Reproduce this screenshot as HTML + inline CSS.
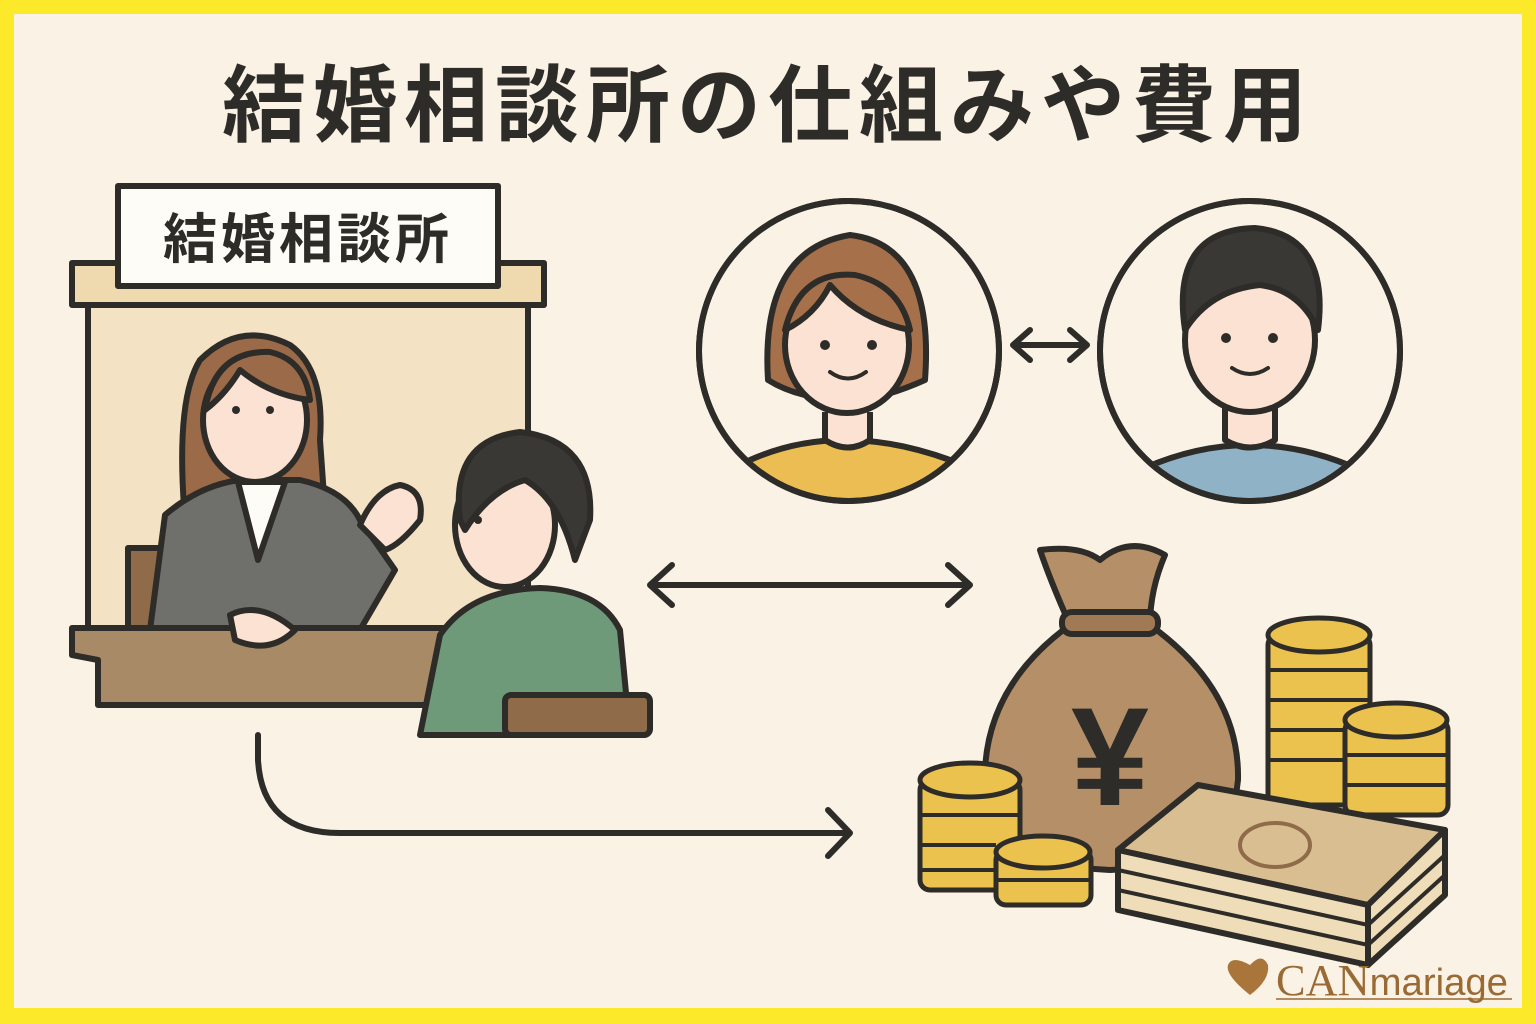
<!DOCTYPE html>
<html><head><meta charset="utf-8"><style>
html,body{margin:0;padding:0;}
body{width:1536px;height:1024px;overflow:hidden;background:#fbe92a;}
svg{display:block}
</style></head><body>
<svg width="1536" height="1024" viewBox="0 0 1536 1024" xmlns="http://www.w3.org/2000/svg">
<rect x="0" y="0" width="1536" height="1024" fill="#fbe92a"/>
<rect x="14" y="14" width="1508" height="994" fill="#faf2e4"/>
<text x="768" y="135" text-anchor="middle" font-family="'Liberation Sans','Noto Sans CJK JP',sans-serif" font-weight="bold" font-size="84" fill="#2e2c28" letter-spacing="7">結婚相談所の仕組みや費用</text>

<g stroke="#2e2c28" stroke-width="6" stroke-linejoin="round" stroke-linecap="round">
<rect x="88" y="300" width="440" height="330" fill="#f3e3c4"/>
<rect x="72" y="263" width="472" height="42" fill="#efdab0"/>
<rect x="118" y="186" width="380" height="100" fill="#fefcf6"/>
<rect x="128" y="548" width="40" height="85" fill="#8f6b4a"/>
<path d="M185 520 Q175 400 200 360 Q240 320 290 345 Q325 370 320 440 L325 510 Z" fill="#9b6a48"/>
<path d="M150 630 L165 515 Q200 485 240 480 L300 480 Q345 490 360 520 L395 570 L360 630 Z" fill="#6f6f6b"/>
<path d="M238 482 L258 560 L285 482 Z" fill="#fefcf6"/>
<ellipse cx="255" cy="420" rx="52" ry="62" fill="#fbe2d2"/>
<path d="M205 410 Q215 350 270 352 Q305 360 310 400 Q270 395 240 370 Q225 395 205 410Z" fill="#9b6a48"/>
<path d="M360 525 Q375 490 400 485 Q425 490 420 520 Q400 545 385 550 Z" fill="#fbe2d2"/>
<path d="M72 628 L460 628 L460 705 L98 705 L98 660 L72 655 Z" fill="#a88a66"/>
<path d="M230 615 Q260 600 295 630 Q270 655 235 640 Z" fill="#fbe2d2"/>
<path d="M420 735 L440 635 Q470 590 540 588 Q600 590 620 630 L630 735 Z" fill="#6e9a7a"/>
<ellipse cx="505" cy="525" rx="50" ry="62" fill="#fbe2d2"/>
<path d="M460 520 Q450 440 520 432 Q595 440 590 520 L575 560 Q560 500 525 480 Q490 490 465 530Z" fill="#3a3835"/>
<rect x="505" y="695" width="145" height="40" rx="6" fill="#8f6b4a"/>
<circle cx="849" cy="351" r="150" fill="#faf2e4"/>
<circle cx="1250" cy="351" r="150" fill="#faf2e4"/>
</g>
<defs><clipPath id="c1"><circle cx="849" cy="351" r="147"/></clipPath><clipPath id="c2"><circle cx="1250" cy="351" r="147"/></clipPath></defs>
<g stroke="#2e2c28" stroke-width="6" stroke-linejoin="round" clip-path="url(#c1)">
<path d="M750 460 Q840 420 950 460 L950 520 L750 520Z" fill="#ecbd52"/>
<path d="M768 380 Q760 250 850 235 Q935 245 925 380 Q880 400 850 400 Q800 400 768 380Z" fill="#a6704a"/>
<path d="M825 412 L825 440 Q848 455 870 440 L870 412" fill="#fbe2d2"/>
<ellipse cx="847" cy="345" rx="62" ry="68" fill="#fbe2d2"/>
<path d="M785 330 Q800 270 855 275 Q900 285 910 330 Q860 320 830 285 Q815 315 785 330Z" fill="#a6704a"/>
</g>
<circle cx="849" cy="351" r="150" fill="none" stroke="#2e2c28" stroke-width="6"/>
<g stroke="#2e2c28" stroke-width="6" stroke-linejoin="round" clip-path="url(#c2)">
<path d="M1140 470 Q1250 420 1360 470 L1360 520 L1140 520Z" fill="#8fb2c6"/>
<path d="M1225 405 L1225 440 Q1250 455 1275 440 L1275 405" fill="#fbe2d2"/>
<ellipse cx="1250" cy="340" rx="65" ry="72" fill="#fbe2d2"/>
<path d="M1185 330 Q1170 230 1255 228 Q1330 235 1318 330 Q1300 290 1260 285 Q1210 290 1185 330Z" fill="#3a3835"/>
</g>
<circle cx="1250" cy="351" r="150" fill="none" stroke="#2e2c28" stroke-width="6"/>
<g fill="#2e2c28">
<circle cx="825" cy="345" r="5"/><circle cx="872" cy="345" r="5"/>
<circle cx="1226" cy="338" r="5"/><circle cx="1273" cy="338" r="5"/>
<circle cx="236" cy="410" r="4"/><circle cx="270" cy="410" r="4"/>
<circle cx="478" cy="520" r="4"/>
</g>
<g fill="none" stroke="#2e2c28" stroke-width="4" stroke-linecap="round">
<path d="M830 372 Q848 385 866 372"/><path d="M1232 368 Q1250 380 1268 368"/>
</g>
<g fill="none" stroke="#2e2c28" stroke-width="6" stroke-linecap="round" stroke-linejoin="round">
<path d="M1013 345 L1087 345 M1030 330 L1013 345 L1030 360 M1070 330 L1087 345 L1070 360"/>
<path d="M650 585 L970 585 M672 565 L650 585 L672 605 M948 565 L970 585 L948 605"/>
<path d="M258 735 L258 760 Q262 833 340 833 L850 833 M828 810 L850 833 L828 856"/>
</g>
<g stroke="#2e2c28" stroke-width="6" stroke-linejoin="round">
<path d="M1070 625 Q980 690 985 790 Q995 865 1110 870 Q1230 865 1238 780 Q1240 690 1150 625 Z" fill="#b58f67"/>
<path d="M1070 625 Q1050 580 1040 550 Q1080 545 1100 560 Q1130 535 1165 555 Q1150 590 1150 625Z" fill="#b58f67"/>
<rect x="1062" y="612" width="96" height="22" rx="10" fill="#a07a55"/>
</g>
<text x="1110" y="805" text-anchor="middle" font-family="'Liberation Sans',sans-serif" font-weight="bold" font-size="140" fill="#2e2c28">¥</text>
<g stroke="#2e2c28" stroke-width="5" fill="#ebc24e">
<rect x="920" y="780" width="100" height="110" rx="10"/>
<ellipse cx="970" cy="780" rx="50" ry="17"/>
<rect x="996" y="850" width="95" height="55" rx="10"/>
<ellipse cx="1043" cy="852" rx="47" ry="16"/>
<rect x="1268" y="635" width="102" height="170" rx="10"/>
<ellipse cx="1319" cy="635" rx="51" ry="17"/>
<rect x="1345" y="720" width="103" height="95" rx="10"/>
<ellipse cx="1396" cy="720" rx="51" ry="17"/>
</g>
<g stroke="#2e2c28" stroke-width="4">
<path d="M920 815 H1020 M920 845 H996 M920 870 H996 M996 880 H1091 M1268 670 H1370 M1268 700 H1370 M1268 730 H1345 M1268 760 H1345 M1345 755 H1448 M1345 785 H1448"/>
</g>
<g stroke="#2e2c28" stroke-width="6" stroke-linejoin="round">
<path d="M1118 850 L1198 785 L1445 830 L1368 905 Z" fill="#d9be92"/>
<path d="M1118 850 L1368 905 L1368 965 L1118 910 Z" fill="#efdcb8"/>
<path d="M1368 905 L1445 830 L1445 895 L1368 965 Z" fill="#efdcb8"/>
</g>
<g stroke="#2e2c28" stroke-width="4" fill="none">
<path d="M1118 870 L1368 925 L1445 855 M1118 890 L1368 945 L1445 875"/>
<ellipse cx="1275" cy="845" rx="35" ry="22" stroke="#8f6b4a"/>
</g>
<path d="M1250 995 Q1225 975 1228 965 Q1232 955 1250 965 Q1262 952 1268 965 Q1270 980 1250 995Z" fill="#a9753b"/>
<text x="1276" y="995" font-family="'Liberation Serif',serif" font-size="44" fill="#9a6a34" textLength="232" lengthAdjust="spacingAndGlyphs">CAN<tspan font-family="'Liberation Sans',sans-serif" font-size="38">mariage</tspan></text>
<line x1="1276" y1="999" x2="1512" y2="999" stroke="#9a6a34" stroke-width="1.5"/>
<text x="308" y="258" text-anchor="middle" font-family="'Liberation Sans','Noto Sans CJK JP',sans-serif" font-weight="bold" font-size="54" fill="#2e2c28" letter-spacing="4">結婚相談所</text>
</svg>
</body></html>
